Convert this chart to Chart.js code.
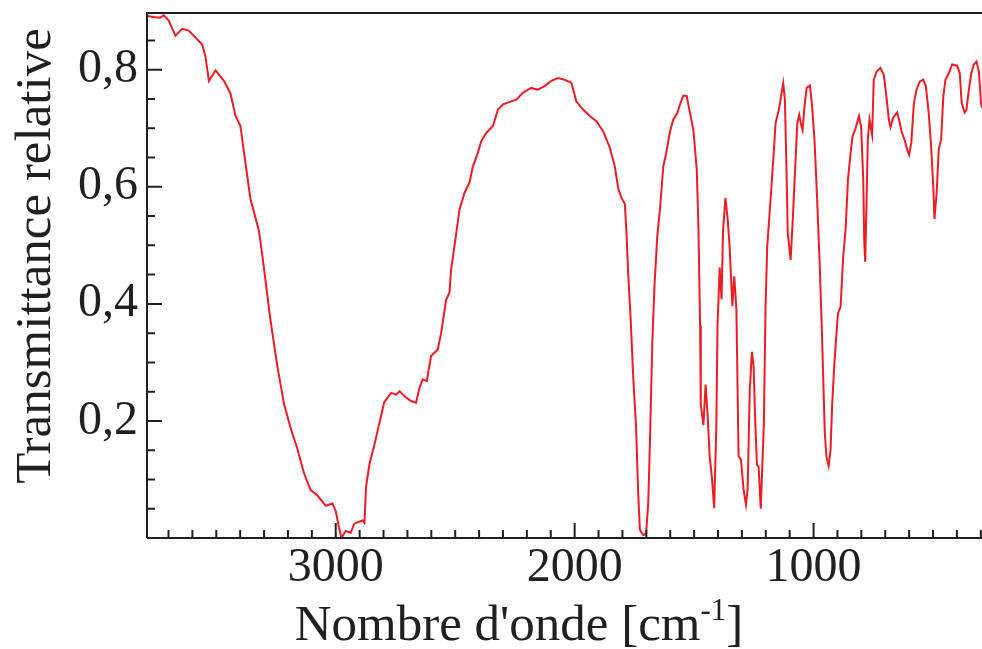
<!DOCTYPE html>
<html>
<head>
<meta charset="utf-8">
<title>Spectre IR</title>
<script src="https://cdn.jsdelivr.net/npm/chart.js"></script>
<style>
    html, body { margin: 0; padding: 0; background: #fff; overflow: hidden; }
    #wrap { width: 982px; height: 649px; position: relative; }
</style>
</head>
<body>
<div id="wrap"><canvas id="irChart"></canvas></div>
<script>
// nombre d'onde (cm-1)
const wavenumbers = [
    3790, 3762, 3735, 3720, 3699, 3671, 3643, 3615, 3587, 3559, 3545, 3531, 3503, 3468, 3441, 3420,
    3399, 3385, 3357, 3322, 3308, 3273, 3245, 3217, 3189, 3161, 3133, 3105, 3077, 3042, 3014, 3000,
    2986, 2976, 2958, 2937, 2923, 2902, 2888, 2880, 2873, 2859, 2839, 2818, 2797, 2768, 2747, 2733,
    2712, 2685, 2664, 2650, 2636, 2619, 2601, 2573, 2559, 2538, 2524, 2517, 2503, 2482, 2461, 2440,
    2426, 2405, 2391, 2370, 2342, 2321, 2300, 2265, 2244, 2216, 2182, 2154, 2126, 2098, 2070, 2042,
    2014, 1993, 1965, 1937, 1909, 1881, 1853, 1832, 1818, 1804, 1790, 1783, 1776, 1766, 1755, 1743,
    1734, 1727, 1713, 1701, 1692, 1685, 1675, 1666, 1654, 1643, 1629, 1617, 1601, 1587, 1570, 1559,
    1545, 1531, 1520, 1503, 1489, 1482, 1475, 1472, 1461, 1452, 1444, 1435, 1426, 1416, 1407, 1402,
    1393, 1385, 1379, 1369, 1360, 1351, 1340, 1332, 1323, 1318, 1314, 1304, 1293, 1283, 1276, 1267,
    1258, 1251, 1244, 1237, 1230, 1221, 1208, 1201, 1194, 1180, 1166, 1159, 1145, 1135, 1127, 1120,
    1113, 1108, 1096, 1087, 1078, 1068, 1060, 1052, 1046, 1038, 1029, 1015, 1006, 996, 985, 974,
    964, 953, 946, 937, 929, 922, 912, 898, 887, 876, 866, 856, 845, 837, 824, 810,
    801, 792, 788, 784, 778, 773, 766, 755, 748, 736, 720, 706, 695, 685, 678, 667,
    650, 639, 632, 619, 608, 600, 591, 580, 569, 555, 541, 530, 518, 508, 499, 494,
    485, 476, 466, 457, 448, 434, 420, 399, 388, 380, 368, 360, 350, 340, 329, 318,
    308, 299, 295
];

// transmittance relative
const transmittance = [
    0.892, 0.890, 0.889, 0.893, 0.884, 0.858, 0.870, 0.867, 0.855, 0.843, 0.822, 0.781, 0.799, 0.781, 0.760, 0.722,
    0.704, 0.662, 0.579, 0.526, 0.485, 0.372, 0.295, 0.230, 0.188, 0.153, 0.111, 0.082, 0.073, 0.055, 0.059, 0.046,
    0.017, 0.000, 0.012, 0.009, 0.024, 0.028, 0.030, 0.026, 0.088, 0.126, 0.158, 0.195, 0.232, 0.248, 0.245, 0.251,
    0.242, 0.234, 0.231, 0.256, 0.271, 0.268, 0.311, 0.322, 0.350, 0.407, 0.419, 0.459, 0.499, 0.561, 0.590, 0.607,
    0.635, 0.658, 0.678, 0.692, 0.704, 0.732, 0.741, 0.746, 0.749, 0.761, 0.769, 0.766, 0.772, 0.781, 0.786, 0.783,
    0.778, 0.746, 0.732, 0.721, 0.712, 0.695, 0.667, 0.635, 0.598, 0.581, 0.571, 0.521, 0.452, 0.378, 0.276, 0.190,
    0.076, 0.014, 0.005, 0.008, 0.059, 0.162, 0.333, 0.430, 0.516, 0.561, 0.635, 0.657, 0.694, 0.715, 0.726, 0.741,
    0.756, 0.755, 0.732, 0.697, 0.630, 0.534, 0.363, 0.227, 0.193, 0.262, 0.214, 0.140, 0.106, 0.051, 0.190, 0.363,
    0.462, 0.408, 0.524, 0.581, 0.547, 0.496, 0.396, 0.447, 0.390, 0.254, 0.140, 0.134, 0.083, 0.057, 0.083, 0.254,
    0.318, 0.294, 0.197, 0.125, 0.122, 0.050, 0.196, 0.395, 0.498, 0.578, 0.663, 0.709, 0.732, 0.757, 0.777, 0.749,
    0.623, 0.521, 0.475, 0.544, 0.623, 0.709, 0.723, 0.706, 0.697, 0.737, 0.769, 0.773, 0.737, 0.680, 0.578, 0.464,
    0.338, 0.179, 0.139, 0.123, 0.150, 0.230, 0.304, 0.384, 0.395, 0.481, 0.527, 0.612, 0.658, 0.686, 0.700, 0.721,
    0.703, 0.612, 0.509, 0.472, 0.578, 0.680, 0.715, 0.689, 0.783, 0.797, 0.803, 0.791, 0.754, 0.715, 0.702, 0.718,
    0.727, 0.709, 0.695, 0.680, 0.663, 0.655, 0.675, 0.743, 0.766, 0.780, 0.783, 0.772, 0.726, 0.669, 0.601, 0.545,
    0.589, 0.664, 0.681, 0.754, 0.783, 0.794, 0.809, 0.807, 0.794, 0.743, 0.727, 0.732, 0.766, 0.794, 0.809, 0.814,
    0.797, 0.743, 0.735
];

const xTickLabels = [3000, 2000, 1000];
const yTickLabels = [0.2, 0.4, 0.6, 0.8];

const FONT = '"Liberation Serif", "Times New Roman", serif';
const INK = '#231f20';

// cadre + graduations interieures + titres des axes
const axisDecor = {
    id: 'axisDecor',
    afterDraw(chart) {
        const { ctx, chartArea: a, scales: { x, y } } = chart;
        ctx.save();
        ctx.strokeStyle = INK;
        ctx.lineWidth = 2;
        ctx.beginPath();
        ctx.moveTo(a.left, a.bottom);
        ctx.lineTo(a.left, a.top);
        ctx.lineTo(a.right, a.top);
        ctx.moveTo(a.left, a.bottom);
        ctx.lineTo(a.right, a.bottom);
        ctx.stroke();

        ctx.beginPath();
        for (let v = 300; v <= 3700; v += 100) {
            const px = x.getPixelForValue(v);
            const len = v % 1000 === 0 ? 15 : 8;
            ctx.moveTo(px, a.bottom);
            ctx.lineTo(px, a.bottom - len);
        }
        for (let i = 1; i <= 17; i++) {
            const py = y.getPixelForValue(i * 0.05);
            const len = i % 4 === 0 ? 15 : 8;
            ctx.moveTo(a.left, py);
            ctx.lineTo(a.left + len, py);
        }
        ctx.stroke();

        ctx.fillStyle = INK;
        ctx.textBaseline = 'alphabetic';

        // titre axe y
        ctx.save();
        ctx.font = '51px ' + FONT;
        ctx.translate(50, 256);
        ctx.rotate(-Math.PI / 2);
        ctx.textAlign = 'center';
        ctx.fillText('Transmittance relative', 0, 0);
        ctx.restore();

        // titre axe x avec exposant
        const main = "Nombre d'onde [cm";
        const sup = '-1';
        const tail = ']';
        ctx.font = '51px ' + FONT;
        const w1 = ctx.measureText(main).width;
        const w3 = ctx.measureText(tail).width;
        ctx.font = '31px ' + FONT;
        const w2 = ctx.measureText(sup).width;
        const sx = 519 - (w1 + w2 + w3) / 2;
        const base = 640;
        ctx.textAlign = 'left';
        ctx.font = '51px ' + FONT;
        ctx.fillText(main, sx, base);
        ctx.font = '31px ' + FONT;
        ctx.fillText(sup, sx + w1, base - 20);
        ctx.font = '51px ' + FONT;
        ctx.fillText(tail, sx + w1 + w2, base);
        ctx.restore();
    }
};

const points = wavenumbers.map((w, i) => ({ x: w, y: transmittance[i] }));

new Chart(document.getElementById('irChart'), {
    type: 'line',
    data: {
        datasets: [{
            data: points,
            borderColor: '#ed1c24',
            borderWidth: 2,
            pointRadius: 0,
            tension: 0,
            fill: false
        }]
    },
    options: {
        responsive: true,
        maintainAspectRatio: false,
        animation: false,
        layout: { padding: { top: 13, right: 0, left: 0, bottom: 0 } },
        plugins: { legend: { display: false }, tooltip: { enabled: false } },
        scales: {
            x: {
                type: 'linear',
                reverse: true,
                min: 295,
                max: 3790,
                grid: { display: false, drawTicks: false },
                border: { display: false },
                afterBuildTicks: s => { s.ticks = xTickLabels.map(v => ({ value: v })); },
                afterFit: s => {
                    s.height = 111;
                    s.paddingLeft = 0;
                    s.paddingRight = 0;
                },
                ticks: {
                    padding: 2,
                    color: INK,
                    font: { family: FONT, size: 48 },
                    maxRotation: 0,
                    autoSkip: false,
                    callback: v => String(v)
                }
            },
            y: {
                min: 0,
                max: 0.897,
                grid: { display: false, drawTicks: false },
                border: { display: false },
                afterBuildTicks: s => { s.ticks = yTickLabels.map(v => ({ value: v })); },
                afterFit: s => {
                    s.width = 147;
                    s.paddingTop = 0;
                    s.paddingBottom = 0;
                },
                ticks: {
                    padding: 9,
                    color: INK,
                    font: { family: FONT, size: 48 },
                    callback: v => v.toFixed(1).replace('.', ',')
                }
            }
        }
    },
    plugins: [axisDecor]
});
</script>
</body>
</html>
